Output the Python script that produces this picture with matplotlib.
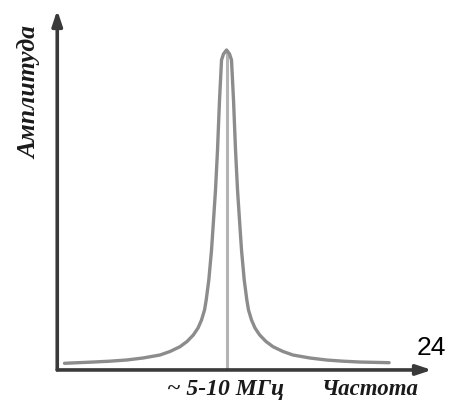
import matplotlib
matplotlib.use("Agg")
import matplotlib.pyplot as plt

# Resonance curve: frequency (arbitrary units) vs amplitude (% of peak)
freq = [1.75, 9.55, 13.98, 18.42, 22.85, 27.42, 30.11, 32.80, 34.68, 36.38,
        37.64, 38.58, 39.39, 39.84, 40.54, 41.27, 41.81, 42.34, 42.88, 43.15,
        43.42, 43.69, 43.96, 44.49, 45.30,
        46.11, 46.64, 46.91, 47.18, 47.45, 47.72, 48.26, 48.79, 49.33, 50.06,
        50.76, 51.21, 52.02, 52.96, 54.22, 55.92, 57.80, 60.49, 63.15, 67.72,
        72.18, 76.62, 81.05, 89.00]
amplitude = [1.79, 2.19, 2.45, 2.82, 3.45, 4.39, 5.49, 6.99, 8.62, 10.66,
             12.85, 15.36, 18.50, 21.63, 27.90, 37.30, 46.71, 56.11, 68.65, 76.49,
             84.33, 90.60, 96.87, 98.75, 100.0,
             98.75, 96.87, 90.60, 84.33, 76.49, 68.65, 56.11, 46.71, 37.30, 27.90,
             21.63, 18.50, 15.36, 12.85, 10.66, 8.62, 6.99, 5.49, 4.39, 3.45,
             2.82, 2.45, 2.19, 1.98]
resonance_freq = 45.3
resonance_amp = 100.0

x_label = "Частота"
y_label = "Амплитуда"
tick_label = "~ 5-10 МГц"
page_number = "24"

fig = plt.figure(figsize=(4.54, 4.04), dpi=100)
ax = fig.add_axes([0, 0, 1, 1])
ax.set_xlim(-15.59, 106.45)
ax.set_ylim(-10.97, 115.67)
ax.axis("off")

axis_color = "#3a3a3a"
arrow = dict(arrowstyle="-|>,head_length=0.9,head_width=0.3", color=axis_color,
             lw=2.6, shrinkA=0, shrinkB=0)
# axes with arrows
ax.annotate("", xy=(100.5, -0.3), xytext=(-0.2, -0.3), arrowprops=arrow)
ax.annotate("", xy=(-0.2, 112.5), xytext=(-0.2, -0.3), arrowprops=arrow)

# marker line at the resonance frequency
ax.plot([resonance_freq, resonance_freq], [-0.3, resonance_amp],
        color="#b4b4b4", lw=2.2, solid_capstyle="butt", zorder=2)

# resonance curve
ax.plot(freq, amplitude, color="#8c8c8c", lw=2.4, solid_joinstyle="round",
        solid_capstyle="round", antialiased=True, zorder=3)

serif = dict(family="Liberation Serif", weight="bold", style="italic", color="#1a1a1a")
ax.text(-7.6, 86.8, y_label, rotation=90, ha="center", va="center",
        fontsize=18.5, **serif)
ax.text(resonance_freq - 0.3, -6.3, tick_label, ha="center", va="center",
        fontsize=17, **serif)
ax.text(84.1, -6.3, x_label, ha="center", va="center", fontsize=16.5, **serif)

ax.text(100.3, 6.7, page_number, ha="center", va="center", fontsize=19,
        family="Liberation Sans", color="black")

fig.savefig("out.png", dpi=100)
